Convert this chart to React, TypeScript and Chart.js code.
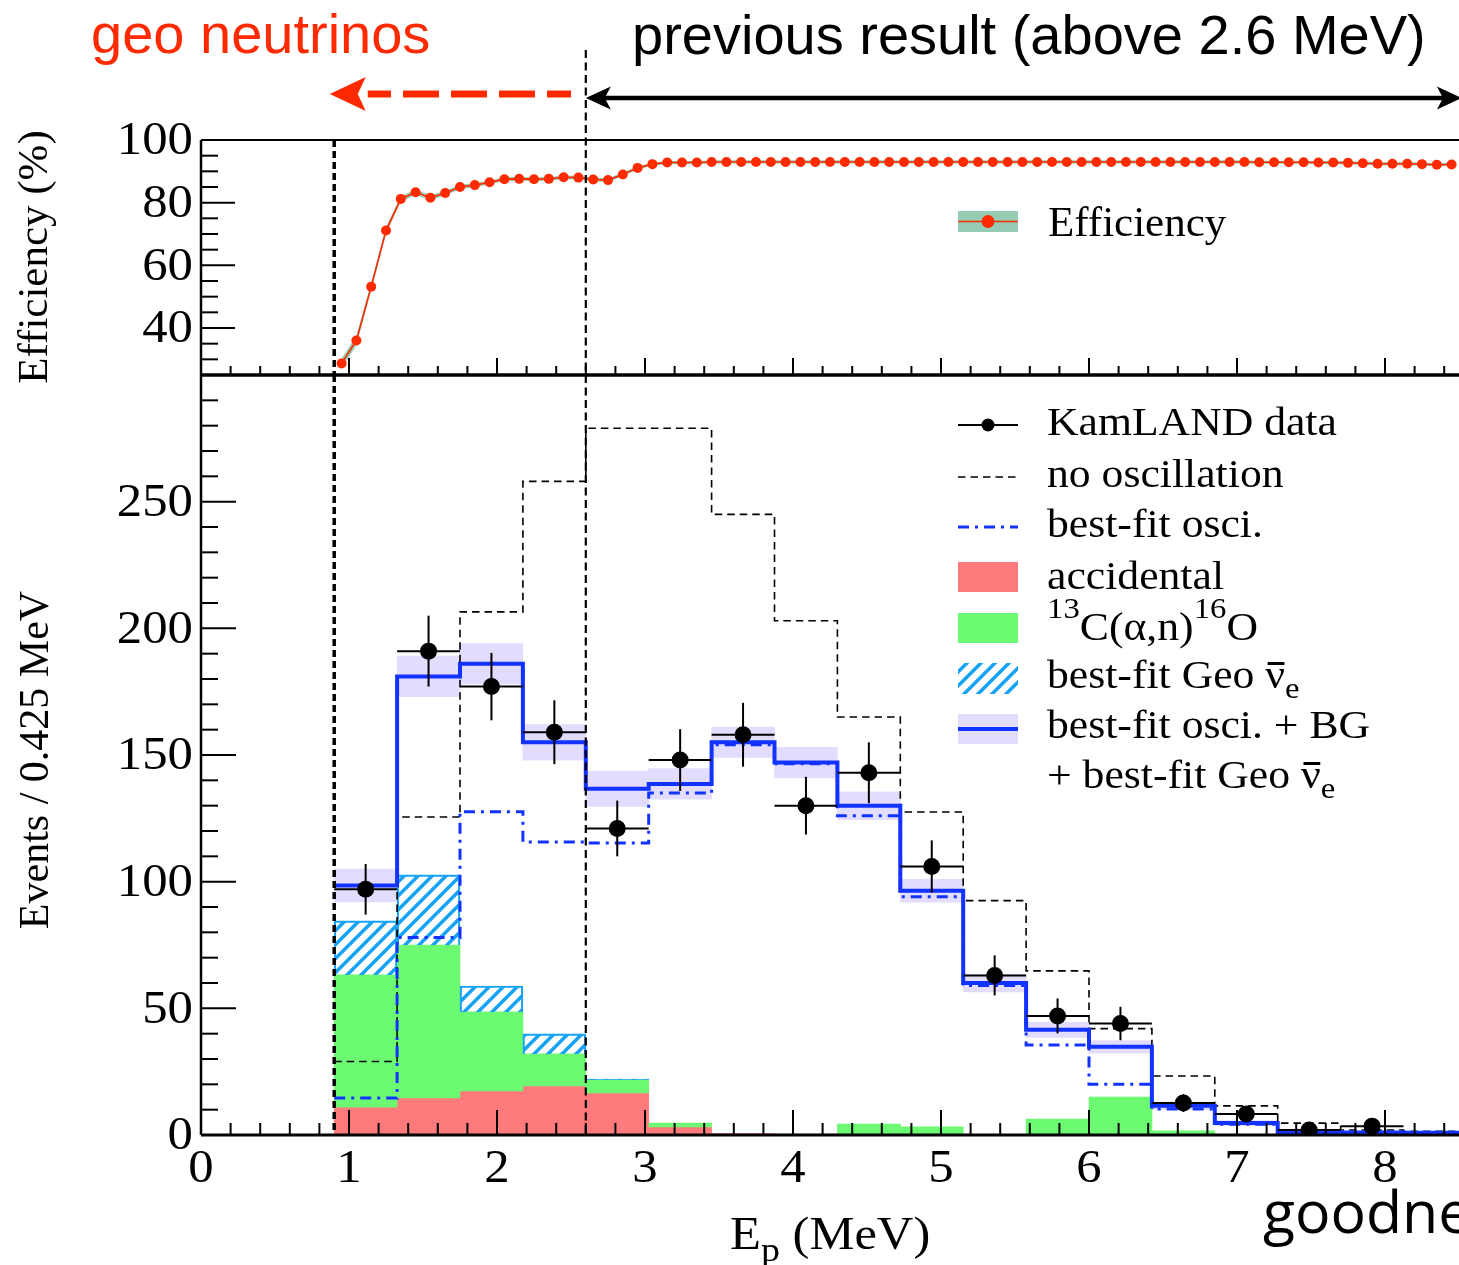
import React, { useEffect, useRef } from "react";
import { Chart, registerables } from "chart.js";

Chart.register(...registerables);

// ===================== DATA =====================
// prompt-energy bins (0.425 MeV wide)
const binEdges = [0.9, 1.325, 1.75, 2.175, 2.6, 3.025, 3.45, 3.875, 4.3, 4.725, 5.15, 5.575, 6.0, 6.425, 6.85, 7.275, 7.7, 8.125, 8.55];
const kamlandData: (number | null)[] = [97, 191, 177, 159, 121, 148, 158, 130, 143, 106, 63, 47, 44, 12.6, 8.3, 2, 3.5, null];
const kamlandErr = [10, 14, 13.3, 12.6, 11, 12.2, 12.6, 11.4, 12, 10.3, 7.9, 6.9, 6.6, 3.5, 2.9, 1.4, 1.9, 0];
const noOscillation = [29, 125.5, 206.5, 258, 279, 279, 245, 203, 165, 127.5, 92.5, 64.8, 42, 23.3, 11.5, 4.7, 2, 1.5];
const bestFitOsci = [14.6, 78, 127.6, 115.7, 115.3, 135, 154, 146.5, 126, 94, 59, 35.5, 20, 10.3, 4.2, 1.5, 1, 0.8];
const bestFitTotal = [98.5, 181, 186, 155, 136.7, 138.6, 155, 147, 130, 96.4, 60, 41.5, 34.8, 11.5, 4.7, 1.2, 1.0, 0.9];
const bestFitTotalErr = [6.5, 8, 8, 7, 7, 6, 6, 6, 5.5, 4.5, 3.5, 3, 2.5, 1.5, 1, 0.5, 0.5, 0.5];
const accidental = [11, 14.6, 17.4, 19.4, 16.6, 3.2, 0.6, 0.4, 0.3, 0.3, 0.2, 0.2, 0.2, 0.1, 0.1, 0.1, 0, 0];
const carbonAlphaN = [52.2, 60.4, 31.2, 12.6, 5.1, 1.5, 0, 0, 4.0, 2.9, 0, 6.1, 14.8, 1.5, 0, 0, 0, 0];
const geoNeutrino = [21.3, 27.7, 10.2, 7.9, 0.4, 0, 0, 0, 0, 0, 0, 0, 0, 0, 0, 0, 0, 0];

// efficiency curve (%)
const effEnergy = [
  0.95, 1.05, 1.15, 1.25, 1.35, 1.45, 1.55, 1.65, 1.75, 1.85,
  1.95, 2.05, 2.15, 2.25, 2.35, 2.45, 2.55, 2.65, 2.75, 2.85,
  2.95, 3.05, 3.15, 3.25, 3.35, 3.45, 3.55, 3.65, 3.75, 3.85,
  3.95, 4.05, 4.15, 4.25, 4.35, 4.45, 4.55, 4.65, 4.75, 4.85,
  4.95, 5.05, 5.15, 5.25, 5.35, 5.45, 5.55, 5.65, 5.75, 5.85,
  5.95, 6.05, 6.15, 6.25, 6.35, 6.45, 6.55, 6.65, 6.75, 6.85,
  6.95, 7.05, 7.15, 7.25, 7.35, 7.45, 7.55, 7.65, 7.75, 7.85,
  7.95, 8.05, 8.15, 8.25, 8.35, 8.45,
];
const efficiency = [
  28.7, 36.0, 53.2, 71.1, 81.2, 83.3, 81.6, 83.1, 85.0, 85.6,
  86.5, 87.5, 87.6, 87.5, 87.6, 88.1, 88.0, 87.4, 87.2, 89.0,
  91.1, 92.3, 92.8, 92.8, 92.8, 93.0, 93.0, 93.0, 93.0, 93.0,
  93.0, 93.0, 93.0, 93.0, 93.0, 93.0, 93.0, 93.0, 93.0, 93.0,
  93.0, 93.0, 93.0, 93.0, 93.0, 93.0, 93.0, 93.0, 93.0, 93.0,
  93.0, 93.0, 93.0, 93.0, 93.0, 93.0, 93.0, 93.0, 93.0, 93.0,
  93.0, 93.0, 92.9, 92.9, 92.9, 92.9, 92.8, 92.8, 92.7, 92.6,
  92.4, 92.4, 92.4, 92.3, 92.1, 92.2,
];
const efficiencyErr = [
  1.6, 1.5, 1.3, 1.1, 0.9, 0.8, 0.8, 0.7, 0.7, 0.7,
  0.6, 0.6, 0.6, 0.6, 0.6, 0.6, 0.6, 0.6, 0.6, 0.6,
  0.5, 0.5, 0.5, 0.5, 0.5, 0.5, 0.5, 0.5, 0.5, 0.5,
  0.5, 0.5, 0.5, 0.5, 0.5, 0.5, 0.5, 0.5, 0.5, 0.5,
  0.5, 0.5, 0.5, 0.5, 0.5, 0.5, 0.5, 0.5, 0.5, 0.5,
  0.5, 0.5, 0.5, 0.5, 0.5, 0.5, 0.5, 0.5, 0.5, 0.5,
  0.5, 0.5, 0.5, 0.5, 0.5, 0.5, 0.5, 0.5, 0.5, 0.5,
  0.5, 0.5, 0.5, 0.5, 0.5, 0.5,
];

// axes
const effTicks = [40, 60, 80, 100];
const eventTicks = [0, 50, 100, 150, 200, 250];
const energyTicks = [0, 1, 2, 3, 4, 5, 6, 7, 8];
const X_MIN = 0, X_MAX = 8.5;
const EFF_MIN = 25, EFF_MAX = 100;
const EV_MIN = 0, EV_MAX = 300;
const GEO_CUT = 0.9;
const PREV_CUT = 2.6;

// ===================== LAYOUT / STYLE =====================
const W = 1459, H = 1265;
const PLOT_LEFT = 201;
const EFF_TOP = 140;
const SPLIT = 375;
const EV_BOTTOM = 1135;
const TOP_CANVAS_H = 380;
const BOT_CANVAS_TOP = 370;
const BOT_CANVAS_H = H - BOT_CANVAS_TOP;

const RED = "#ff2a00";
const BLUE = "#1232ff";
const LAVENDER = "rgb(226,221,255)";
const PINK = "rgb(255,122,122)";
const GREEN = "rgb(108,250,115)";
const HATCH = "rgb(22,163,245)";
const TEAL = "rgb(150,203,180)";

const SERIF = '"Liberation Serif", "Times New Roman", Times, serif';
const SANS = '"Liberation Sans", Arial, Helvetica, sans-serif';
const OPEN = '"Open Sans", "Noto Sans", sans-serif';
const TICK_FONT = '47px "Liberation Serif"';
const TICK_SX = 1.08;

// ===================== HELPERS =====================
const binCenter = (i: number) => (binEdges[i] + binEdges[i + 1]) / 2;
const histSteps = (vals: number[]) => {
  const pts = vals.map((v, i) => ({ x: binEdges[i], y: v }));
  pts.push({ x: binEdges[vals.length], y: vals[vals.length - 1] });
  return pts;
};
const floatBars = (lo: number[], hi: number[]) =>
  lo.map((l, i) => ({ x: binCenter(i), y: [l, hi[i]] })).filter((d) => d.y[1] - d.y[0] > 0);

const zeros = accidental.map(() => 0);
const carbonTop = accidental.map((v, i) => v + carbonAlphaN[i]);
const geoTop = carbonTop.map((v, i) => v + geoNeutrino[i]);

function makeHatch(color: string, s: number, lw: number) {
  const c = document.createElement("canvas");
  c.width = s;
  c.height = s;
  const g = c.getContext("2d")!;
  g.strokeStyle = color;
  g.lineWidth = lw;
  g.beginPath();
  g.moveTo(-2, 2); g.lineTo(2, -2);
  g.moveTo(0, s); g.lineTo(s, 0);
  g.moveTo(s - 2, s + 2); g.lineTo(s + 2, s - 2);
  g.stroke();
  const ctx = document.createElement("canvas").getContext("2d")!;
  return ctx.createPattern(c, "repeat")!;
}

function seg(ctx: CanvasRenderingContext2D, x1: number, y1: number, x2: number, y2: number) {
  ctx.beginPath();
  ctx.moveTo(x1, y1);
  ctx.lineTo(x2, y2);
  ctx.stroke();
}

function label(ctx: CanvasRenderingContext2D, t: string, x: number, y: number, align: CanvasTextAlign, base: CanvasTextBaseline) {
  ctx.save();
  ctx.translate(x, y);
  ctx.scale(TICK_SX, 1);
  ctx.font = TICK_FONT;
  ctx.fillStyle = "#000";
  ctx.textAlign = align;
  ctx.textBaseline = base;
  ctx.fillText(t, 0, 0);
  ctx.restore();
}

function xScaleOpts() {
  return {
    type: "linear" as const,
    min: X_MIN,
    max: X_MAX,
    display: false,
    offset: false,
    afterBuildTicks: (s: any) => {
      s.ticks = energyTicks.map((v) => ({ value: v }));
    },
  };
}

// ===================== PLUGINS =====================
const topDecor = {
  id: "topDecor",
  afterDraw(chart: any) {
    const { ctx, chartArea: a } = chart;
    const x = chart.scales.x, y = chart.scales.y;
    ctx.save();
    ctx.strokeStyle = "#000";
    ctx.lineWidth = 2;
    seg(ctx, a.left, a.top, a.right, a.top);
    ctx.lineWidth = 2.5;
    seg(ctx, a.left, a.top, a.left, a.bottom);
    ctx.lineWidth = 3;
    seg(ctx, a.left, a.bottom, a.right, a.bottom);
    ctx.lineWidth = 2;
    for (let v = EFF_MIN + 5; v < EFF_MAX; v += 5) {
      const py = y.getPixelForValue(v);
      seg(ctx, a.left, py, a.left + (v % 20 === 0 ? 34 : 17), py);
    }
    for (let k = 1; k <= 42; k++) {
      const px = x.getPixelForValue(k / 5);
      seg(ctx, px, a.bottom, px, a.bottom - (k % 5 === 0 ? 17 : 9));
    }
    effTicks.forEach((v) => label(ctx, String(v), a.left - 8, y.getPixelForValue(v) + 2, "right", "middle"));

    // vertical cut lines
    const gx = x.getPixelForValue(GEO_CUT);
    const px2 = x.getPixelForValue(PREV_CUT);
    ctx.setLineDash([7, 4]);
    ctx.lineWidth = 3.5;
    seg(ctx, gx, a.top, gx, a.bottom);
    ctx.setLineDash([8, 4.5]);
    ctx.lineWidth = 2.2;
    seg(ctx, px2, 50, px2, a.bottom);
    ctx.setLineDash([]);

    // red dashed arrow (geo neutrinos)
    const ay = 94;
    const tail = x.getPixelForValue(2.5);
    const tip = x.getPixelForValue(0.87);
    ctx.strokeStyle = RED;
    ctx.lineWidth = 7;
    ctx.setLineDash([36, 12]);
    ctx.lineDashOffset = 12;
    seg(ctx, tail, ay, tip + 38, ay);
    ctx.setLineDash([]);
    ctx.lineDashOffset = 0;
    ctx.fillStyle = RED;
    ctx.beginPath();
    ctx.moveTo(tip, ay);
    ctx.lineTo(tip + 36, ay - 17);
    ctx.lineTo(tip + 28, ay);
    ctx.lineTo(tip + 36, ay + 17);
    ctx.closePath();
    ctx.fill();

    // black double arrow (previous result)
    const by = 98;
    const l = px2;
    const r = x.getPixelForValue(8.52);
    ctx.strokeStyle = "#000";
    ctx.fillStyle = "#000";
    ctx.lineWidth = 4.5;
    seg(ctx, l + 18, by, r - 18, by);
    ctx.beginPath();
    ctx.moveTo(l, by); ctx.lineTo(l + 25, by - 11.5); ctx.lineTo(l + 19, by); ctx.lineTo(l + 25, by + 11.5);
    ctx.closePath(); ctx.fill();
    ctx.beginPath();
    ctx.moveTo(r, by); ctx.lineTo(r - 25, by - 11.5); ctx.lineTo(r - 19, by); ctx.lineTo(r - 25, by + 11.5);
    ctx.closePath(); ctx.fill();

    // legend symbol
    ctx.fillStyle = TEAL;
    ctx.fillRect(958, 211, 60, 21);
    ctx.strokeStyle = RED;
    ctx.lineWidth = 1.6;
    seg(ctx, 958, 221.5, 1018, 221.5);
    ctx.fillStyle = RED;
    ctx.beginPath();
    ctx.arc(988, 221.5, 6.5, 0, Math.PI * 2);
    ctx.fill();
    ctx.restore();
  },
};

const DATA_INDEX = 7;
const bottomDecor = {
  id: "bottomDecor",
  beforeDatasetDraw(chart: any, args: any) {
    if (args.index !== DATA_INDEX) return;
    const { ctx } = chart;
    const x = chart.scales.x, y = chart.scales.y;
    ctx.save();
    ctx.strokeStyle = "#000";
    ctx.lineWidth = 2;
    kamlandData.forEach((v, i) => {
      if (v == null) return;
      const cx = x.getPixelForValue(binCenter(i));
      const cy = y.getPixelForValue(v);
      seg(ctx, x.getPixelForValue(binEdges[i]), cy, x.getPixelForValue(binEdges[i + 1]), cy);
      seg(ctx, cx, y.getPixelForValue(v - kamlandErr[i]), cx, y.getPixelForValue(v + kamlandErr[i]));
    });
    ctx.restore();
  },
  afterDraw(chart: any) {
    const { ctx, chartArea: a } = chart;
    const x = chart.scales.x, y = chart.scales.y;
    const off = BOT_CANVAS_TOP;
    ctx.save();
    ctx.strokeStyle = "#000";
    ctx.lineWidth = 3;
    seg(ctx, a.left, a.top, a.right, a.top);
    seg(ctx, a.left, a.bottom, a.right, a.bottom);
    ctx.lineWidth = 2.5;
    seg(ctx, a.left, a.top, a.left, a.bottom);
    ctx.lineWidth = 2;
    for (let v = EV_MIN + 10; v < EV_MAX; v += 10) {
      const py = y.getPixelForValue(v);
      seg(ctx, a.left, py, a.left + (v % 50 === 0 ? 35 : 17), py);
    }
    for (let k = 1; k <= 42; k++) {
      const px = x.getPixelForValue(k / 5);
      seg(ctx, px, a.bottom, px, a.bottom - (k % 5 === 0 ? 25 : 12));
    }
    eventTicks.forEach((v) => label(ctx, String(v), a.left - 8, y.getPixelForValue(v) + 2, "right", "middle"));
    energyTicks.forEach((v) => label(ctx, String(v), x.getPixelForValue(v), a.bottom + 47, "center", "alphabetic"));

    const gx = x.getPixelForValue(GEO_CUT);
    const px2 = x.getPixelForValue(PREV_CUT);
    ctx.setLineDash([7, 4]);
    ctx.lineWidth = 3.5;
    seg(ctx, gx, a.top, gx, a.bottom);
    ctx.setLineDash([8, 4.5]);
    ctx.lineWidth = 2.2;
    seg(ctx, px2, a.top, px2, a.bottom);
    ctx.setLineDash([]);

    // legend symbols
    const L = 958, R = 1018, M = 988;
    ctx.strokeStyle = "#000";
    ctx.lineWidth = 2;
    seg(ctx, L, 425 - off, R, 425 - off);
    ctx.fillStyle = "#000";
    ctx.beginPath();
    ctx.arc(M, 425 - off, 6.5, 0, Math.PI * 2);
    ctx.fill();
    ctx.lineWidth = 1.6;
    ctx.setLineDash([7.5, 5]);
    seg(ctx, L, 477 - off, R, 477 - off);
    ctx.strokeStyle = BLUE;
    ctx.lineWidth = 3;
    ctx.setLineDash([11, 6, 3, 6]);
    seg(ctx, L, 527 - off, R, 527 - off);
    ctx.setLineDash([]);
    ctx.fillStyle = PINK;
    ctx.fillRect(L, 562 - off, 60, 30);
    ctx.fillStyle = GREEN;
    ctx.fillRect(L, 613 - off, 60, 30);
    ctx.fillStyle = chart.$hatch;
    ctx.fillRect(L, 663 - off, 60, 31);
    ctx.fillStyle = LAVENDER;
    ctx.fillRect(L, 714 - off, 60, 30);
    ctx.strokeStyle = BLUE;
    ctx.lineWidth = 4;
    seg(ctx, L, 729 - off, R, 729 - off);
    ctx.restore();
  },
};

// ===================== TEXT HELPERS =====================
const ASC: Record<string, number> = { serif: 0.8375, sans: 0.8465, open: 0.888 };
const FAM: Record<string, string> = { serif: SERIF, sans: SANS, open: OPEN };

function Txt(p: { x: number; base: number; size: number; font: "serif" | "sans" | "open"; color?: string; sx?: number; children: React.ReactNode }) {
  return (
    <div
      style={{
        position: "absolute",
        left: p.x,
        top: p.base - ASC[p.font] * p.size,
        fontFamily: FAM[p.font],
        fontSize: p.size,
        lineHeight: 1,
        color: p.color ?? "#000",
        whiteSpace: "nowrap",
        transform: `scaleX(${p.sx ?? 1})`,
        transformOrigin: "0 0",
      }}
    >
      {p.children}
    </div>
  );
}

function VTxt(p: { bx: number; cy: number; size: number; children: React.ReactNode }) {
  const boxW = 600;
  return (
    <div
      style={{
        position: "absolute",
        left: 0,
        top: 0,
        width: boxW,
        textAlign: "center",
        fontFamily: SERIF,
        fontSize: p.size,
        lineHeight: 1,
        whiteSpace: "nowrap",
        transformOrigin: "0 0",
        transform: `translate(${p.bx - 0.8375 * p.size}px, ${p.cy + boxW / 2}px) rotate(-90deg)`,
      }}
    >
      {p.children}
    </div>
  );
}

const Sup = (p: { children: React.ReactNode }) => (
  <span style={{ position: "relative", top: "-0.78em", fontSize: "0.75em", lineHeight: 0 }}>{p.children}</span>
);
const Sub = (p: { children: React.ReactNode }) => (
  <span style={{ position: "relative", top: "0.34em", fontSize: "0.75em", lineHeight: 0 }}>{p.children}</span>
);
const NuBar = () => (
  <span style={{ position: "relative", display: "inline-block" }}>
    ν
    <span style={{ position: "absolute", left: "0.06em", right: "0.02em", top: "0.16em", height: "0.09em", background: "#000" }} />
  </span>
);

// ===================== APP =====================
export default function App() {
  const topRef = useRef<HTMLCanvasElement>(null);
  const botRef = useRef<HTMLCanvasElement>(null);

  useEffect(() => {
    const hatch = makeHatch(HATCH, 14, 3.5);

    const top = new Chart(topRef.current!, {
      type: "line",
      data: {
        datasets: [
          {
            label: "eff-lo",
            data: effEnergy.map((e, i) => ({ x: e, y: efficiency[i] - efficiencyErr[i] })),
            borderColor: "rgba(0,0,0,0)",
            borderWidth: 0,
            pointRadius: 0,
            fill: false,
            order: 3,
          },
          {
            label: "eff-hi",
            data: effEnergy.map((e, i) => ({ x: e, y: efficiency[i] + efficiencyErr[i] })),
            borderColor: "rgba(0,0,0,0)",
            borderWidth: 0,
            pointRadius: 0,
            fill: "-1",
            backgroundColor: TEAL,
            order: 2,
          },
          {
            label: "Efficiency",
            data: effEnergy.map((e, i) => ({ x: e, y: efficiency[i] })),
            borderColor: RED,
            borderWidth: 1.6,
            pointRadius: 5,
            pointBackgroundColor: RED,
            pointBorderWidth: 0,
            fill: false,
            tension: 0,
            order: 1,
          },
        ],
      } as any,
      options: {
        responsive: false,
        maintainAspectRatio: false,
        animation: false,
        devicePixelRatio: 1,
        events: [],
        layout: { autoPadding: false, padding: { left: PLOT_LEFT, right: 0, top: EFF_TOP, bottom: TOP_CANVAS_H - SPLIT } },
        plugins: { legend: { display: false }, tooltip: { enabled: false } },
        scales: {
          x: xScaleOpts(),
          y: {
            type: "linear",
            min: EFF_MIN,
            max: EFF_MAX,
            display: false,
            afterBuildTicks: (s: any) => {
              s.ticks = effTicks.map((v) => ({ value: v }));
            },
          },
        },
      } as any,
      plugins: [topDecor],
    });

    const barCommon = { type: "bar" as const, grouped: false, barPercentage: 1, categoryPercentage: 1, borderWidth: 0 };
    const lineCommon = { type: "line" as const, stepped: true, pointRadius: 0, fill: false, tension: 0 };

    const bot = new Chart(botRef.current!, {
      type: "line",
      data: {
        datasets: [
          {
            ...barCommon,
            label: "band",
            data: floatBars(
              bestFitTotal.map((v, i) => v - bestFitTotalErr[i]),
              bestFitTotal.map((v, i) => v + bestFitTotalErr[i])
            ),
            backgroundColor: LAVENDER,
            order: 8,
          },
          { ...barCommon, label: "accidental", data: floatBars(zeros, accidental), backgroundColor: PINK, order: 7 },
          { ...barCommon, label: "13C(a,n)16O", data: floatBars(accidental, carbonTop), backgroundColor: GREEN, order: 6 },
          {
            ...barCommon,
            label: "best-fit Geo",
            data: floatBars(carbonTop, geoTop),
            backgroundColor: hatch,
            borderColor: HATCH,
            borderWidth: 1.5,
            borderSkipped: "start",
            order: 5,
          },
          { ...lineCommon, label: "no oscillation", data: histSteps(noOscillation), borderColor: "#000", borderWidth: 1.6, borderDash: [7.5, 5], order: 4 },
          { ...lineCommon, label: "best-fit osci.", data: histSteps(bestFitOsci), borderColor: BLUE, borderWidth: 3, borderDash: [11, 6, 3, 6], order: 3 },
          { ...lineCommon, label: "best-fit osci. + BG + geo", data: histSteps(bestFitTotal), borderColor: BLUE, borderWidth: 4, order: 2 },
          {
            type: "line",
            label: "KamLAND data",
            data: kamlandData
              .map((v, i) => (v == null ? null : { x: binCenter(i), y: v }))
              .filter((d) => d !== null),
            showLine: false,
            pointRadius: 8.5,
            pointBackgroundColor: "#000",
            pointBorderWidth: 0,
            order: 1,
          },
        ],
      } as any,
      options: {
        responsive: false,
        maintainAspectRatio: false,
        animation: false,
        devicePixelRatio: 1,
        events: [],
        layout: { autoPadding: false, padding: { left: PLOT_LEFT, right: 0, top: SPLIT - BOT_CANVAS_TOP, bottom: H - EV_BOTTOM } },
        plugins: { legend: { display: false }, tooltip: { enabled: false } },
        scales: {
          x: xScaleOpts(),
          y: {
            type: "linear",
            min: EV_MIN,
            max: EV_MAX,
            display: false,
            afterBuildTicks: (s: any) => {
              s.ticks = eventTicks.map((v) => ({ value: v }));
            },
          },
        },
      } as any,
      plugins: [
        {
          id: "hatchHolder",
          beforeInit(c: any) {
            c.$hatch = hatch;
          },
        },
        bottomDecor,
      ],
    });

    return () => {
      top.destroy();
      bot.destroy();
    };
  }, []);

  const LX = 1047;
  const LS = 39;
  const LSX = 1.12;

  return (
    <div style={{ position: "absolute", left: 0, top: 0, width: W, height: H, overflow: "hidden", background: "#fff" }}>
      <canvas ref={topRef} width={W} height={TOP_CANVAS_H} style={{ position: "absolute", left: 0, top: 0 }} />
      <canvas ref={botRef} width={W} height={BOT_CANVAS_H} style={{ position: "absolute", left: 0, top: BOT_CANVAS_TOP }} />

      <Txt x={91} base={53} size={56} font="sans" color={RED}>geo neutrinos</Txt>
      <Txt x={632} base={54} size={56} font="sans">previous result (above 2.6 MeV)</Txt>

      <Txt x={1048} base={236} size={43} font="serif">Efficiency</Txt>

      <Txt x={LX} base={435} size={LS} font="serif" sx={LSX}>KamLAND data</Txt>
      <Txt x={LX} base={487} size={LS} font="serif" sx={LSX}>no oscillation</Txt>
      <Txt x={LX} base={537} size={LS} font="serif" sx={LSX}>best-fit osci.</Txt>
      <Txt x={LX} base={589} size={LS} font="serif" sx={LSX}>accidental</Txt>
      <Txt x={LX} base={640} size={LS} font="serif" sx={LSX}>
        <Sup>13</Sup>C(α,n)<Sup>16</Sup>O
      </Txt>
      <Txt x={LX} base={688} size={LS} font="serif" sx={LSX}>
        best-fit Geo <NuBar />
        <Sub>e</Sub>
      </Txt>
      <Txt x={LX} base={738} size={LS} font="serif" sx={LSX}>best-fit osci. + BG</Txt>
      <Txt x={LX} base={788} size={LS} font="serif" sx={LSX}>
        + best-fit Geo <NuBar />
        <Sub>e</Sub>
      </Txt>

      <VTxt bx={47} cy={257} size={43}>Efficiency (%)</VTxt>
      <VTxt bx={48} cy={760} size={42}>Events / 0.425 MeV</VTxt>

      <Txt x={730} base={1250} size={46} font="serif" sx={1.1}>
        E<Sub>p</Sub> (MeV)
      </Txt>

      <Txt x={1263} base={1233} size={59} font="open">goodne</Txt>
    </div>
  );
}
